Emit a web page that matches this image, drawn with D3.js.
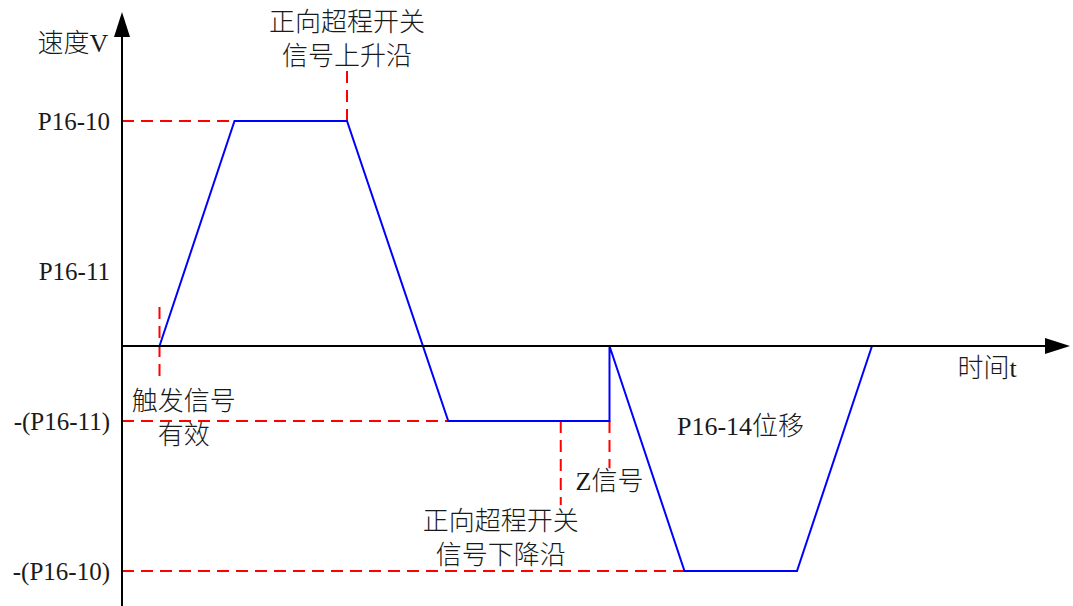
<!DOCTYPE html>
<html>
<head>
<meta charset="utf-8">
<script src="https://cdn.jsdelivr.net/npm/d3@7"></script>
<style>
  body { margin: 0; background: #fff; }
  text { font-family: "Liberation Serif", "Noto Sans CJK SC", serif; fill: #1a1a1a; font-weight: 300; }
</style>
</head>
<body>
<script>
var w = 1073;
var h = 606;

// speed levels (P16-10 = 3 units, P16-11 = 1 unit)
var levelNames = ["P16-10", "P16-11", "-(P16-11)", "-(P16-10)"];
var levelValues = [3, 1, -1, -3];

// speed profile: time points and speed values
var profileTime = [1, 3, 6, 8.7, 13, 13, 15, 18, 20];
var profileSpeed = [0, 3, 3, -1, -1, 0, -3, -3, 0];

// red dashed guide lines (horizontal: speed level, from t=0 to tEnd)
var guideLevel = [3, -1, -3];
var guideEnd = [6, 8.7, 15];

// red dashed markers (vertical: time, from speed v1 to v2)
var markerTime = [6, 1, 11.7, 13];
var markerFrom = [3, 0.52, -1, -1];
var markerTo = [3.72, -0.49, -2.12, -1.63];

// annotations
var noteLines = [
  ["正向超程开关", "信号上升沿"],
  ["触发信号", "有效"],
  ["Z信号"],
  ["正向超程开关", "信号下降沿"],
  ["P16-14位移"],
  ["时间t"],
  ["速度V"]
];
var noteTime = [6, 1.65, 13, 10.1, 14.8, 23.07, -1.31];
var noteSpeed = [4.2, -0.85, -1.92, -2.45, -1.18, -0.41, 3.92];
var noteAnchor = ["middle", "middle", "middle", "middle", "start", "middle", "middle"];

var xScale = d3.scaleLinear().domain([0, 25.28]).range([122, 1070]);
var yScale = d3.scaleLinear().domain([-3, 3]).range([571, 121]);

var svg = d3.select("body").append("svg")
  .attr("width", w)
  .attr("height", h);

// guide lines
svg.selectAll(".guide")
  .data(guideLevel)
  .enter().append("line")
  .attr("x1", xScale(0))
  .attr("x2", function(d, i) { return xScale(guideEnd[i]); })
  .attr("y1", function(d) { return yScale(d); })
  .attr("y2", function(d) { return yScale(d); })
  .attr("stroke", "#ff0000")
  .attr("stroke-width", 2)
  .attr("stroke-dasharray", "12,7");

svg.selectAll(".marker")
  .data(markerTime)
  .enter().append("line")
  .attr("x1", function(d) { return xScale(d); })
  .attr("x2", function(d) { return xScale(d); })
  .attr("y1", function(d, i) { return yScale(markerFrom[i]); })
  .attr("y2", function(d, i) { return yScale(markerTo[i]); })
  .attr("stroke", "#ff0000")
  .attr("stroke-width", 2)
  .attr("stroke-dasharray", "12,7");

// speed profile
var line = d3.line()
  .x(function(d) { return xScale(d[0]); })
  .y(function(d) { return yScale(d[1]); });

svg.append("path")
  .datum(d3.zip(profileTime, profileSpeed))
  .attr("d", line)
  .attr("fill", "none")
  .attr("stroke", "#0000ff")
  .attr("stroke-width", 2)
  .attr("stroke-linejoin", "miter");

// axes lines with arrows
var x0 = xScale(0), y0 = yScale(0);
svg.append("line")
  .attr("x1", x0).attr("x2", x0)
  .attr("y1", h).attr("y2", 30)
  .attr("stroke", "#000").attr("stroke-width", 2);
svg.append("path")
  .attr("d", "M" + x0 + ",12 L" + (x0 - 8) + ",37 L" + (x0 + 8) + ",37 Z")
  .attr("fill", "#000");

svg.append("line")
  .attr("x1", x0).attr("x2", 1050)
  .attr("y1", y0).attr("y2", y0)
  .attr("stroke", "#000").attr("stroke-width", 2);
svg.append("path")
  .attr("d", "M1070," + y0 + " L1045," + (y0 - 8) + " L1045," + (y0 + 8) + " Z")
  .attr("fill", "#000");

// level labels through an axis
var yAxis = d3.axisLeft(yScale)
  .tickValues(levelValues)
  .tickFormat(function(d, i) { return levelNames[i]; })
  .tickSize(0)
  .tickPadding(12);

var gy = svg.append("g")
  .attr("transform", "translate(" + x0 + ",0)")
  .call(yAxis);
gy.select(".domain").remove();
gy.selectAll("text")
  .attr("font-family", "Liberation Serif, serif")
  .attr("font-size", 25)
  .attr("fill", "#1a1a1a");

// annotations
noteLines.forEach(function(lines, i) {
  var t = svg.append("text")
    .attr("x", xScale(noteTime[i]))
    .attr("y", yScale(noteSpeed[i]))
    .attr("text-anchor", noteAnchor[i])
    .attr("font-size", 26);
  lines.forEach(function(s, j) {
    t.append("tspan")
      .attr("x", xScale(noteTime[i]))
      .attr("dy", j === 0 ? 0 : 34)
      .text(s);
  });
});
</script>
</body>
</html>
